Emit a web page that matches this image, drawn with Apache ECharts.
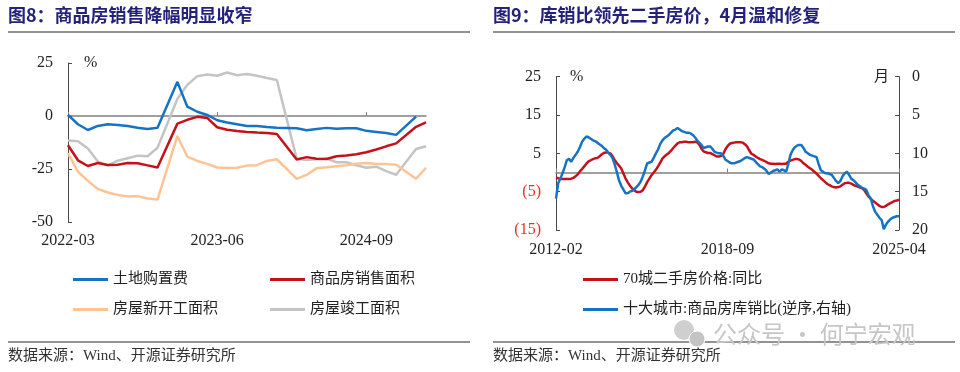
<!DOCTYPE html>
<html><head><meta charset="utf-8">
<script src="https://cdn.jsdelivr.net/npm/echarts@6/dist/echarts.min.js"></script>
<style>html,body{margin:0;padding:0;background:#fff;}#c{width:960px;height:372px;}</style>
</head><body><div id="c"></div>
<script>
// ---------- Chart 8 data (cumulative YoY, %) ----------
const leftCategories = ['2022-03','2022-04','2022-05','2022-06','2022-07','2022-08','2022-09','2022-10','2022-11','2022-12',
 '2023-01','2023-02','2023-03','2023-04','2023-05','2023-06','2023-07','2023-08','2023-09','2023-10','2023-11','2023-12',
 '2024-01','2024-02','2024-03','2024-04','2024-05','2024-06','2024-07','2024-08','2024-09','2024-10','2024-11','2024-12',
 '2025-01','2025-02','2025-03'];
const landPurchase = [0.5,-3.9,-6.6,-4.7,-3.9,-4.2,-4.7,-5.5,-6.1,-5.5,
 null,16.1,4.4,2.0,0.5,-2.0,-3.1,-3.9,-4.7,-4.7,-5.2,-5.5,
 null,-5.8,-6.7,-6.1,-5.6,-6.0,-5.8,-5.8,-7.0,-7.5,-8.0,-8.9,
 null,-0.3,null];
const salesArea = [-13.8,-20.9,-23.6,-22.2,-23.1,-23.0,-22.2,-22.3,-23.3,-24.3,
 null,-3.6,-1.8,-0.4,-0.9,-5.3,-6.5,-7.1,-7.5,-7.8,-8.0,-8.5,
 null,-20.5,-19.4,-20.2,-20.3,-19.0,-18.6,-18.0,-17.1,-15.8,-14.3,-12.9,
 null,-5.1,-3.0];
const newStarts = [-17.5,-26.3,-30.6,-34.4,-36.1,-37.2,-38.0,-37.8,-38.9,-39.4,
 null,-9.4,-19.2,-21.2,-22.6,-24.3,-24.5,-24.4,-23.4,-23.2,-21.2,-20.4,
 null,-29.7,-27.8,-24.6,-24.2,-23.7,-23.2,-22.5,-22.2,-22.6,-22.7,-23.0,
 null,-29.6,-24.4];
const completions = [-11.5,-11.9,-15.3,-21.5,-23.3,-21.1,-19.9,-18.7,-19.0,-15.0,
 null,8.0,14.7,18.8,19.6,19.0,20.5,19.2,19.8,19.0,17.9,17.0,
 null,-20.2,-20.7,-20.4,-20.1,-21.8,-21.8,-23.2,-24.4,-23.9,-26.0,-27.7,
 null,-15.6,-14.3];
const leftNames = ['土地购置费','商品房销售面积','房屋新开工面积','房屋竣工面积'];
const leftYTicks = {min:-50, max:25, interval:25};

// ---------- Chart 9 data ----------
const priceYoY = [
 -1.3,-1.5,-1.6,-1.7,-1.7,-1.7,-1.7,-1.6,-1.4,-1.0,-0.5,
 0.3,0.9,1.6,2.3,2.9,3.2,3.5,3.7,3.8,4.2,4.7,5.1,
 5.2,5.2,5.0,4.3,3.3,2.5,1.8,1.1,-0.2,-1.5,-2.5,-3.4,
 -4.1,-4.6,-5.0,-5.1,-5.0,-4.6,-3.6,-2.5,-1.6,-0.7,0.0,0.7,
 1.6,2.6,3.6,4.2,4.7,5.1,5.7,6.4,7.0,7.6,7.9,7.9,
 8.0,8.0,7.9,7.9,7.9,8.0,7.9,7.3,6.2,5.5,5.3,5.1,
 5.1,4.8,4.5,4.2,4.2,4.3,4.8,6.0,6.9,7.5,7.7,7.8,
 7.9,7.9,7.9,7.8,7.4,6.8,5.8,4.9,4.6,4.2,3.8,3.5,
 3.3,3.0,2.7,2.4,2.3,2.3,2.2,2.3,2.3,2.2,2.3,2.3,
 2.8,3.1,3.3,3.5,3.5,3.4,3.0,2.4,2.0,1.5,1.1,0.7,
 0.2,-0.3,-0.9,-1.5,-2.0,-2.5,-3.0,-3.3,-3.6,-3.8,-3.9,-3.8,
 -3.6,-3.2,-2.8,-2.7,-2.7,-2.9,-3.2,-3.5,-3.7,-3.9,-4.1,-4.6,
 -5.5,-6.3,-6.9,-7.4,-7.8,-8.3,-8.7,-9.0,-9.0,-8.7,-8.3,-8.0,
 -7.7,-7.4,-7.3,-7.1];
const stockSalesRatio = [
 15.9,13.9,13.3,12.6,11.8,10.9,10.7,11.1,10.6,10.2,9.8,
 9.2,8.5,8.1,7.8,7.9,8.1,8.3,8.4,8.6,8.8,9.0,9.3,
 9.5,9.9,10.2,10.6,11.4,12.4,13.5,14.2,14.7,15.2,15.2,15.0,
 14.9,14.7,14.4,14.1,13.7,13.0,12.2,11.3,11.2,11.1,10.6,10.0,
 9.5,8.8,8.3,8.0,7.8,7.6,7.3,7.0,6.9,6.7,6.9,7.1,
 7.2,7.3,7.3,7.4,7.6,7.9,8.3,8.6,8.9,9.3,9.2,9.1,
 9.1,9.4,9.8,9.9,10.0,10.0,10.3,10.8,11.0,11.2,11.3,11.3,
 11.2,11.1,11.0,10.8,10.6,10.5,10.6,10.7,10.8,11.1,11.4,11.7,
 11.8,12.0,12.3,12.7,12.5,12.3,12.2,12.1,12.4,12.1,12.2,12.4,
 11.4,10.2,9.6,9.2,9.0,8.9,8.9,9.3,9.8,10.0,10.2,10.3,
 10.4,10.5,11.4,12.2,12.4,12.6,12.6,12.7,12.8,13.2,13.6,13.9,
 13.6,13.0,12.6,12.4,12.8,13.3,13.5,13.8,14.1,14.3,14.5,14.6,
 14.8,15.5,15.9,16.9,17.6,18.0,18.4,18.7,19.9,19.3,18.9,18.6,
 18.4,18.3,18.2,18.2];
const rightNames = ['70城二手房价格:同比','十大城市:商品房库销比(逆序,右轴)'];
// monthly categories 2012-02 .. 2025-04
const rightCategories = [];
for (let y = 2012; y <= 2025; y++) {
  for (let m = 1; m <= 12; m++) {
    if (y === 2012 && m < 2) continue;
    if (y === 2025 && m > 4) break;
    rightCategories.push(y + '-' + String(m).padStart(2,'0'));
  }
}

// ---------- styling ----------
const SERIF = '"Liberation Serif","Times New Roman","Noto Sans CJK SC",serif';
const CJK = '"Liberation Serif","Noto Sans CJK SC",serif';
const TITLE_COLOR = '#23217a';
const C_BLUE = '#1673c4', C_RED = '#c4121a', C_ORANGE = '#fcc395', C_GRAY = '#c4c4c4';
const AXIS_DARK = '#4a4a4a', ZERO_GRAY = '#808080';

const chart = echarts.init(document.getElementById('c'), null, {renderer:'canvas'});

function legendItem(name, left, top) {
  return {data:[name], left:left, top:top, padding:0, itemWidth:35, itemHeight:3, icon:'rect',
          itemGap:0, selectedMode:false, textStyle:{fontFamily:CJK, fontSize:15, color:'#222', padding:[0,0,0,0]}};
}

const option = {
  backgroundColor:'#fff',
  animation:false,
  grid:[
    {left:68, top:63, width:358, height:159, containLabel:false},
    {left:556, top:76.7, width:343, height:153.3, containLabel:false}
  ],
  xAxis:[
    {gridIndex:0, type:'category', data:leftCategories, boundaryGap:false,
     axisLine:{show:false, onZero:false}, axisTick:{show:false}, splitLine:{show:false},
     axisLabel:{interval:14, margin:11, fontFamily:SERIF, fontSize:16, color:'#222'}},
    {gridIndex:0, type:'category', data:leftCategories, boundaryGap:false, position:'bottom',
     axisLine:{show:true, onZero:true, onZeroAxisIndex:0, lineStyle:{color:ZERO_GRAY, width:1.5}},
     axisTick:{show:true, inside:true, interval:14, length:4, lineStyle:{color:ZERO_GRAY}},
     axisLabel:{show:false}, splitLine:{show:false}},
    {gridIndex:1, type:'category', data:rightCategories, boundaryGap:false,
     axisLine:{show:false, onZero:false}, axisTick:{show:false}, splitLine:{show:false},
     axisLabel:{interval:78, margin:12, fontFamily:SERIF, fontSize:16, color:'#222'}},
    {gridIndex:1, type:'category', data:rightCategories, boundaryGap:false, position:'bottom',
     axisLine:{show:true, onZero:true, onZeroAxisIndex:1, lineStyle:{color:ZERO_GRAY, width:1.5}},
     axisTick:{show:true, inside:true, interval:78, length:4, lineStyle:{color:ZERO_GRAY}},
     axisLabel:{show:false}, splitLine:{show:false}}
  ],
  yAxis:[
    {gridIndex:0, type:'value', min:leftYTicks.min, max:leftYTicks.max, interval:leftYTicks.interval,
     name:'%', nameLocation:'end', nameGap:0,
     nameTextStyle:{fontFamily:SERIF, fontSize:16, color:'#222', align:'left', verticalAlign:'middle', padding:[0,0,0,16]},
     axisLine:{show:true, lineStyle:{color:AXIS_DARK, width:1}},
     axisTick:{show:true, inside:true, length:4, lineStyle:{color:AXIS_DARK}},
     splitLine:{show:false},
     axisLabel:{margin:15, fontFamily:SERIF, fontSize:16, color:'#222'}},
    {gridIndex:1, type:'value', min:-15, max:25, interval:5,
     name:'%', nameLocation:'end', nameGap:0,
     nameTextStyle:{fontFamily:SERIF, fontSize:16, color:'#222', align:'left', verticalAlign:'middle', padding:[0,0,0,14]},
     axisLine:{show:false}, axisTick:{show:false}, splitLine:{show:false},
     axisLabel:{margin:15, fontFamily:SERIF, fontSize:16,
       formatter:function(v){ if (v===25||v===15||v===5) return String(v); if (v===-5||v===-15) return '('+(-v)+')'; return ''; },
       color:function(v){ return Number(v) < 0 ? '#e8302a' : '#222'; }}},
    {gridIndex:1, type:'value', min:0, max:20, interval:5, inverse:true, position:'right',
     name:'月', nameLocation:'start', nameGap:0,
     nameTextStyle:{fontFamily:CJK, fontSize:15, color:'#222', align:'right', verticalAlign:'middle', padding:[0,10,0,0]},
     axisLine:{show:true, lineStyle:{color:AXIS_DARK, width:1}},
     axisTick:{show:true, inside:true, length:4, lineStyle:{color:AXIS_DARK}},
     splitLine:{show:false},
     axisLabel:{margin:13, fontFamily:SERIF, fontSize:16, color:'#222'}},
    {gridIndex:1, type:'value', min:0, max:20, interval:5, inverse:true, position:'left',
     axisLine:{show:true, lineStyle:{color:AXIS_DARK, width:1}},
     axisTick:{show:true, inside:true, length:4, lineStyle:{color:AXIS_DARK}},
     axisLabel:{show:false}, splitLine:{show:false}}
  ],
  legend:[
    legendItem(leftNames[0], 73, 272),
    legendItem(leftNames[1], 270, 272),
    legendItem(leftNames[2], 73, 302),
    legendItem(leftNames[3], 270, 302),
    legendItem(rightNames[0], 583, 272),
    legendItem(rightNames[1], 583, 302)
  ],
  series:[
    {name:leftNames[3], type:'line', xAxisIndex:0, yAxisIndex:0, data:completions, connectNulls:true,
     symbol:'none', lineStyle:{color:C_GRAY, width:2.5}, itemStyle:{color:C_GRAY}},
    {name:leftNames[2], type:'line', xAxisIndex:0, yAxisIndex:0, data:newStarts, connectNulls:true,
     symbol:'none', lineStyle:{color:C_ORANGE, width:2.5}, itemStyle:{color:C_ORANGE}},
    {name:leftNames[1], type:'line', xAxisIndex:0, yAxisIndex:0, data:salesArea, connectNulls:true,
     symbol:'none', lineStyle:{color:C_RED, width:2.5}, itemStyle:{color:C_RED}},
    {name:leftNames[0], type:'line', xAxisIndex:0, yAxisIndex:0, data:landPurchase, connectNulls:true,
     symbol:'none', lineStyle:{color:C_BLUE, width:2.5}, itemStyle:{color:C_BLUE}},
    {name:rightNames[0], type:'line', xAxisIndex:2, yAxisIndex:1, data:priceYoY,
     symbol:'none', lineStyle:{color:C_RED, width:2.5}, itemStyle:{color:C_RED}},
    {name:rightNames[1], type:'line', xAxisIndex:2, yAxisIndex:2, data:stockSalesRatio,
     symbol:'none', lineStyle:{color:C_BLUE, width:2.5}, itemStyle:{color:C_BLUE}}
  ],
  graphic:[
    {type:'text', left:8, top:6, style:{text:'图8：商品房销售降幅明显收窄', fontFamily:'"Noto Sans CJK SC",sans-serif', fontWeight:'bold', fontSize:18, fill:TITLE_COLOR}},
    {type:'text', left:493, top:6, style:{text:'图9：库销比领先二手房价，4月温和修复', fontFamily:'"Noto Sans CJK SC",sans-serif', fontWeight:'bold', fontSize:18, fill:TITLE_COLOR}},
    {type:'line', shape:{x1:8, y1:32, x2:470, y2:32}, style:{stroke:'#6e6e6e', lineWidth:1.5}},
    {type:'line', shape:{x1:493, y1:32, x2:955, y2:32}, style:{stroke:'#6e6e6e', lineWidth:1.5}},
    {type:'line', shape:{x1:8, y1:342, x2:470, y2:342}, style:{stroke:'#6e6e6e', lineWidth:1.5}},
    {type:'line', shape:{x1:493, y1:342, x2:955, y2:342}, style:{stroke:'#6e6e6e', lineWidth:1.5}},
    {type:'text', left:8, top:349, style:{text:'数据来源：Wind、开源证券研究所', fontFamily:CJK, fontSize:15, fill:'#333'}},
    {type:'text', left:493, top:349, style:{text:'数据来源：Wind、开源证券研究所', fontFamily:CJK, fontSize:15, fill:'#333'}},
    {type:'circle', shape:{cx:684, cy:330, r:10}, style:{fill:'#cfcfcf'}, z:1},
    {type:'circle', shape:{cx:697, cy:339, r:8}, style:{fill:'#c4c4c4', stroke:'#fff', lineWidth:1}, z:2},
    {type:'text', left:713, top:322, style:{text:'公众号 · 何宁宏观', fontFamily:'"Noto Sans CJK SC",sans-serif', fontSize:24, fill:'#c6c6c6'}, z:3}
  ]
};
chart.setOption(option);
</script>
</body></html>
